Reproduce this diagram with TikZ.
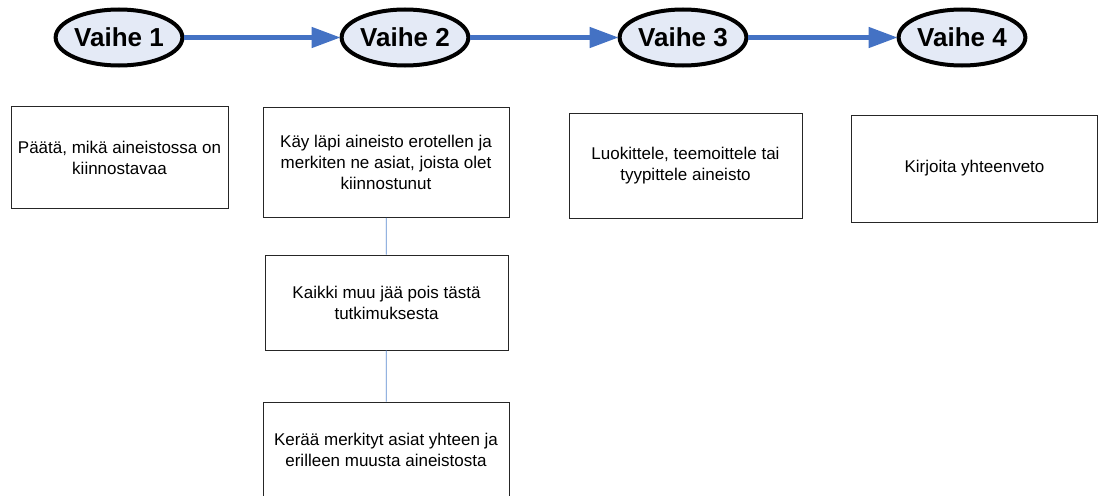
\documentclass[tikz,border=0pt]{standalone}
\usepackage{fontspec}
\setmainfont{Liberation Sans}
\usetikzlibrary{shapes.geometric,arrows.meta}
\definecolor{arrblue}{HTML}{4472C4}
\definecolor{ellfill}{HTML}{E4EAF6}
\definecolor{linkblue}{HTML}{5B8BD0}
\tikzset{
  phase/.style={ellipse, draw=black, line width=4pt, fill=ellfill, minimum width=113pt, minimum height=56pt, inner sep=0pt, font=\fontsize{26}{30}\selectfont\bfseries},
  flow/.style={draw=arrblue, line width=4.5pt, -{Triangle[length=29pt,width=20pt]}, shorten >=-1pt},
  taskbox/.style={draw=black!85, line width=0.9pt, fill=white, inner sep=0pt, align=center, font=\fontsize{17}{21}\selectfont},
  link/.style={draw=linkblue, line width=0.8pt}
}
\begin{document}
\begin{tikzpicture}[x=1pt,y=-1pt]
\useasboundingbox (0,0) rectangle (1099,495);
\node[phase] (v1) at (119,37.5) {Vaihe 1};
\node[phase] (v2) at (405,37.5) {Vaihe 2};
\node[phase] (v3) at (683,37.5) {Vaihe 3};
\node[phase] (v4) at (962,37.5) {Vaihe 4};
\draw[flow] (v1) -- (v2);
\draw[flow] (v2) -- (v3);
\draw[flow] (v3) -- (v4);
\node[taskbox, minimum width=217pt, minimum height=102pt] (b1) at (119.5,157.5) {Päätä, mikä aineistossa on\\kiinnostavaa};
\node[taskbox, minimum width=246pt, minimum height=110pt] (b2) at (386,162.5) {Käy läpi aineisto erotellen ja\\merkiten ne asiat, joista olet\\kiinnostunut};
\node[taskbox, minimum width=243pt, minimum height=95pt] (b3) at (386.5,302.5) {Kaikki muu jää pois tästä\\tutkimuksesta};
\node[taskbox, minimum width=246pt, minimum height=96pt] (b4) at (386,450) {Kerää merkityt asiat yhteen ja\\erilleen muusta aineistosta};
\node[taskbox, minimum width=233pt, minimum height=105pt] (b5) at (685.5,165.5) {Luokittele, teemoittele tai\\tyypittele aineisto};
\node[taskbox, minimum width=246pt, minimum height=107pt] (b6) at (974.5,168.5) {Kirjoita yhteenveto};
\draw[link] (b2) -- (b3);
\draw[link] (b3) -- (b4);
\end{tikzpicture}
\end{document}
